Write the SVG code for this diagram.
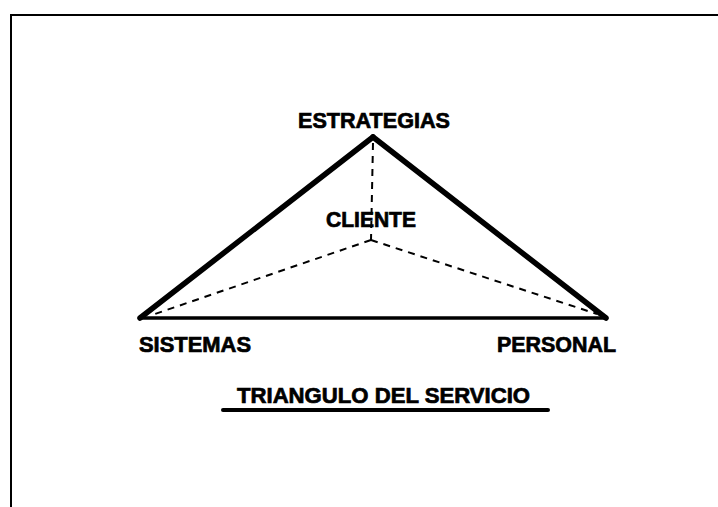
<svg xmlns="http://www.w3.org/2000/svg" width="718" height="507" viewBox="0 0 718 507">
<style>
.lbl{font-family:"Liberation Sans",Arial,sans-serif;font-weight:bold;font-size:22px;fill:#000;stroke:#000;stroke-width:0.7;}
.side{stroke:#000;stroke-width:5.5;stroke-linecap:round;fill:none;}
.base{stroke:#000;stroke-width:3.5;stroke-linecap:round;fill:none;}
.dash{stroke:#000;stroke-width:2;stroke-dasharray:7 6;fill:none;}
</style>
<rect width="718" height="507" fill="#fff"/>
<g id="frame">
<path d="M11,507 L11,15 L718,15" fill="none" stroke="#000" stroke-width="2"/>
</g>
<g id="connectors">
<line class="side" x1="140" y1="318" x2="373" y2="137"/>
<line class="side" x1="373" y1="137" x2="606" y2="318"/>
<line class="base" x1="140" y1="318" x2="606" y2="318"/>
<line class="dash" x1="373" y1="143" x2="371" y2="240"/>
<line class="dash" x1="371" y1="240" x2="152" y2="315"/>
<line class="dash" x1="371" y1="240" x2="597" y2="314"/>
</g>
<g id="estrategias"><text class="lbl" x="298" y="128" textLength="152" lengthAdjust="spacingAndGlyphs">ESTRATEGIAS</text></g>
<g id="cliente"><text class="lbl" x="326" y="227" textLength="90" lengthAdjust="spacingAndGlyphs">CLIENTE</text></g>
<g id="sistemas"><text class="lbl" x="139" y="352" textLength="112" lengthAdjust="spacingAndGlyphs">SISTEMAS</text></g>
<g id="personal"><text class="lbl" x="497" y="352" textLength="119" lengthAdjust="spacingAndGlyphs">PERSONAL</text></g>
<g id="title">
<text class="lbl" x="237" y="403" font-size="24" textLength="293" lengthAdjust="spacingAndGlyphs">TRIANGULO DEL SERVICIO</text>
<line x1="223" y1="410" x2="548" y2="410" stroke="#000" stroke-width="4" stroke-linecap="round"/>
</g>
</svg>
